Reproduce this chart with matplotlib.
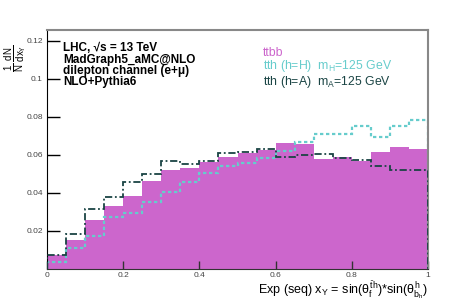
import numpy as np
import matplotlib
matplotlib.use("Agg")
import matplotlib.pyplot as plt

plt.rcParams['font.family'] = ['Liberation Sans', 'DejaVu Sans']
plt.rcParams['mathtext.fontset'] = 'custom'
plt.rcParams['mathtext.rm'] = 'Liberation Sans'
plt.rcParams['mathtext.it'] = 'Liberation Sans'
plt.rcParams['mathtext.bf'] = 'Liberation Sans:bold'

# bin edges (20 bins from 0 to 1)
bordas = np.linspace(0, 1, 21)

# ttbb (preenchido)
ttbb = [0.0072, 0.0154, 0.0255, 0.0329, 0.0386, 0.0463, 0.0518, 0.0532, 0.0560, 0.0586,
        0.0610, 0.0626, 0.0661, 0.0658, 0.0579, 0.0588, 0.0570, 0.0614, 0.0640, 0.0631]
# tth (h=H)
tth_H = [0.0037, 0.0108, 0.0173, 0.0275, 0.0294, 0.0353, 0.0406, 0.0458, 0.0507, 0.0539,
         0.0556, 0.0581, 0.0622, 0.0665, 0.0710, 0.0710, 0.0751, 0.0696, 0.0754, 0.0785]
# tth (h=A)
tth_A = [0.0071, 0.0184, 0.0316, 0.0381, 0.0458, 0.0497, 0.0567, 0.0553, 0.0567, 0.0610,
         0.0613, 0.0631, 0.0591, 0.0600, 0.0604, 0.0583, 0.0575, 0.0541, 0.0518, 0.0521]

xticks = [0, 0.2, 0.4, 0.6, 0.8, 1]
xticklabels = ['0', '0.2', '0.4', '0.6', '0.8', '1']
yticks = [0.02, 0.04, 0.06, 0.08, 0.1, 0.12]
yticklabels = ['0.02', '0.04', '0.06', '0.08', '0.1', '0.12']

magenta = '#cc66cc'
ciano = '#66cccc'
escuro = '#1a4444'

fig = plt.figure(figsize=(4.73, 3.0), dpi=100)
ax = fig.add_axes([47 / 473, 31 / 300, 381 / 473, 239 / 300])

ax.stairs(ttbb, bordas, fill=True, color=magenta, zorder=1)
ax.stairs(tth_H, bordas, color=ciano, lw=1.6, linestyle=(0, (1.5, 1.2)), zorder=2)
ax.stairs(tth_A, bordas, color=escuro, lw=1.3, linestyle=(0, (4, 1.5, 1, 1.5)), zorder=3)

ax.set_xlim(0, 1)
ax.set_ylim(0, 0.1256)
ax.set_xticks(xticks)
ax.set_xticklabels(xticklabels)
ax.set_yticks(yticks)
ax.set_yticklabels(yticklabels)
ax.tick_params(axis='both', direction='in', labelsize=6, labelcolor='#444444', width=1)
ax.tick_params(axis='y', length=9, pad=3)
ax.tick_params(axis='x', length=6, pad=2, color='#333333')

for s in ['top', 'right']:
    ax.spines[s].set_color('#888888')
    ax.spines[s].set_linewidth(1.5)
ax.spines['left'].set_color('black')
ax.spines['bottom'].set_color('#333333')

# textos
txt = ['LHC, √s = 13 TeV', 'MadGraph5_aMC@NLO', 'dilepton channel (e+μ)', 'NLO+Pythia6']
for i, t in enumerate(txt):
    fig.text(63 / 473, 1 - (48 + i * 11.5) / 300, t, fontsize=8.5, fontweight='bold',
             va='center', ha='left')

fig.text(263 / 473, 1 - 53 / 300, 'ttbb', color=magenta, fontsize=8.8, va='center')
fig.text(263 / 473, 1 - 66.5 / 300, 'tth (h=H)  m$_{H}$=125 GeV', color=ciano, fontsize=8.8,
         va='center')
fig.text(263 / 473, 1 - 82.5 / 300, 'tth (h=A)  m$_{A}$=125 GeV', color=escuro, fontsize=8.8,
         va='center')

fig.text(428 / 473, 1 - 279 / 300,
         r'Exp (seq) x$_{Y}$ = sin($\theta_{f}^{\bar{t}h}$)*sin($\theta_{b_{h}}^{h}$)',
         fontsize=9, ha='right', va='top')
fig.text(16 / 473, 1 - 58 / 300, r'$\frac{1}{N}\,\frac{dN}{dx_{Y}}$', fontsize=10,
         rotation=90, ha='center', va='center')

fig.savefig('out.png', dpi=100)
